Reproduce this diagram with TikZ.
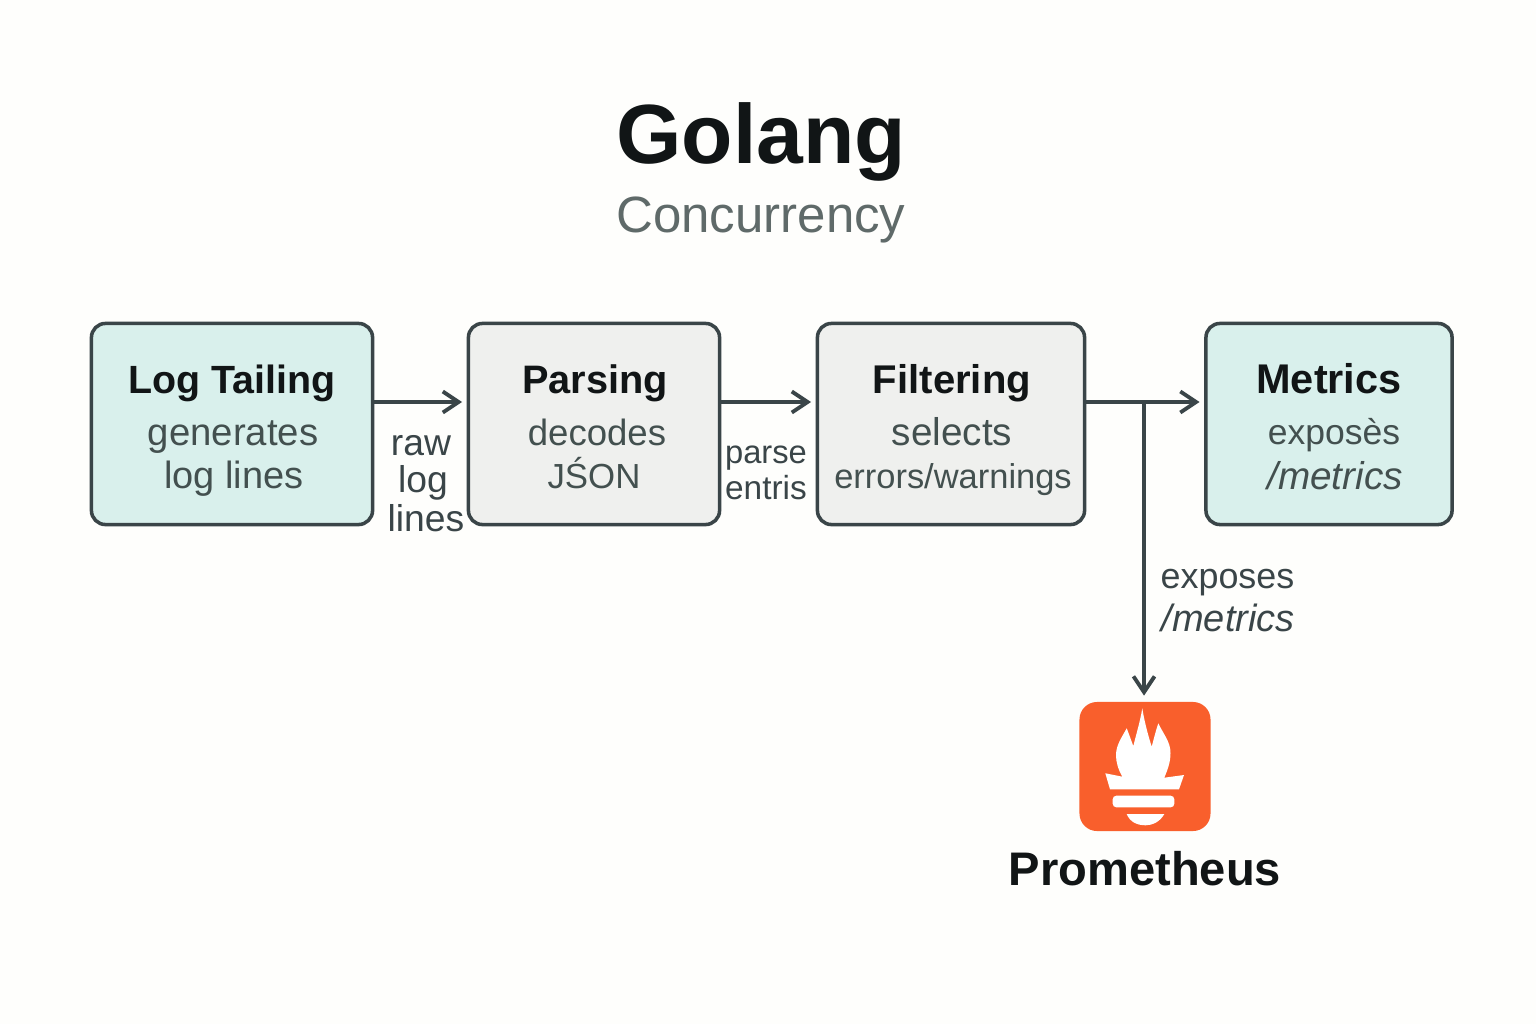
\documentclass[tikz,border=0pt]{standalone}
\usepackage{fontspec}
\setmainfont{Liberation Sans}
\usetikzlibrary{arrows.meta, positioning, calc}
\definecolor{paper}{HTML}{FEFEFC}
\definecolor{ink}{HTML}{111516}
\definecolor{slate}{HTML}{3A4548}
\definecolor{subink}{HTML}{43504F}
\definecolor{mint}{HTML}{D9F0EC}
\definecolor{stone}{HTML}{EFF0EE}
\definecolor{promorange}{HTML}{F95F2C}

\begin{document}
\begin{tikzpicture}[x=0.01cm, y=-0.01cm,
        stagebox/.style={draw=slate, line width=1pt, rounded corners=4pt, inner sep=0pt, outer sep=0pt, minimum height=2.01cm},
        stagetitle/.style={anchor=base, inner sep=0pt, text=ink, font=\fontsize{#1}{14}\selectfont\bfseries},
        stagetext/.style={anchor=base, inner sep=0pt, text=subink, font=\fontsize{#1}{12}\selectfont},
        edgetext/.style={anchor=base, inner sep=0pt, text=slate, font=\fontsize{#1}{12}\selectfont},
        flow/.style={draw=slate, line width=1pt, -{Straight Barb[length=4.5pt, width=6pt, line width=1.1pt]}, shorten >=1.8pt}
      ]
      \fill[paper] (0,0) rectangle (1536,1024);
      \useasboundingbox (0,0) rectangle (1536,1024);

      \node[anchor=base, inner sep=0pt, text=ink, font=\fontsize{23.9}{28}\selectfont\bfseries] (head) at (761,163) {Golang};
      \node[anchor=base, inner sep=0pt, text=subink!85, font=\fontsize{14.5}{16}\selectfont] (subhead) at (761,232) {Concurrency};

      \node[stagebox, fill=mint, minimum width=2.81cm]  (tail)   at (232,424)  {};
      \node[stagebox, fill=stone, minimum width=2.51cm] (parse)  at (594,424)  {};
      \node[stagebox, fill=stone, minimum width=2.67cm] (filter) at (951,424)  {};
      \node[stagebox, fill=mint, minimum width=2.46cm]  (metric) at (1329,424) {};

      \node[stagetitle=11.2] (tail1)   at (232,393)  {Log Tailing};
      \node[stagetext=10.9]  (tail2)   at (233,445)  {generates};
      \node[stagetext=10.8]  (tail3)   at (234,488)  {log lines};
      \node[stagetitle=11.3] (parse1)  at (595,393)  {Parsing};
      \node[stagetext=10.4]  (parse2)  at (597,445)  {decodes};
      \node[stagetext=9.9]   (parse3)  at (594,488)  {JŚON};
      \node[stagetitle=11.4] (filter1) at (952,393)  {Filtering};
      \node[stagetext=11]    (filter2) at (952,445)  {selects};
      \node[stagetext=9.8]   (filter3) at (953,488)  {errors/warnings};
      \node[stagetitle=11.8] (metric1) at (1329,393) {Metrics};
      \node[stagetext=10.1]  (metric2) at (1334,444) {exposès};
      \node[stagetext=11]    (metric3) at (1335,489) {\itshape /metrics};

      \coordinate (branch) at (1144,402);
      \draw[flow] (tail.east |- branch) -- (parse.west |- branch);
      \draw[flow] (parse.east |- branch) -- (filter.west |- branch);
      \draw[flow] (filter.east |- branch) -- (metric.west |- branch);

      \node[edgetext=10.6] (raw1) at (421,455) {raw};
      \node[edgetext=10.6] (raw2) at (423,492) {log};
      \node[edgetext=10.6] (raw3) at (426,531) {lines};
      \node[edgetext=9.3]  (ent1) at (766,463) {parse};
      \node[edgetext=9.5]  (ent2) at (766,499) {entris};
      \node[edgetext=10.2, anchor=base west] (exp1) at (1160,588) {exposes};
      \node[edgetext=10.8, anchor=base west] (exp2) at (1161,631) {\itshape /metrics};

      \node[fill=promorange, rounded corners=5pt, inner sep=0pt, outer sep=0pt, minimum width=1.31cm, minimum height=1.29cm] (prom) at (1145,766.5) {};
      \draw[flow] (branch) -- (prom.north -| branch);
      \fill[white] (1142.3,708.3) .. controls (1145,725) and (1149,738) .. (1151.7,746.7)
        .. controls (1154,738) and (1156,730) .. (1158.3,723.3)
        .. controls (1164,735) and (1170.5,742) .. (1170.5,753)
        .. controls (1170.5,763) and (1167,771) .. (1164.3,777.7)
        -- (1184,775) -- (1179,789.3) -- (1110,789.3) -- (1105.3,773.3) -- (1122.3,776.7)
        .. controls (1118,769) and (1116,762) .. (1116,755)
        .. controls (1116,745) and (1122,737) .. (1126.7,728.3)
        .. controls (1129,734) and (1131,740) .. (1133.3,746)
        .. controls (1136,735) and (1140,722) .. (1142.3,708.3) -- cycle;
      \fill[white, rounded corners=1pt] (1112.7,795.7) rectangle (1174.3,807.3);
      \fill[white] (1126.7,814) -- (1164.3,814) .. controls (1160,822) and (1152,825.3) .. (1145.7,825.3)
        .. controls (1137,825.3) and (1130,822) .. (1126.7,814) -- cycle;
      \node[anchor=base, inner sep=0pt, text=ink, font=\fontsize{13.4}{16}\selectfont\bfseries] (promname) at (1145,885) {Prometheus};
    \end{tikzpicture}
\end{document}
